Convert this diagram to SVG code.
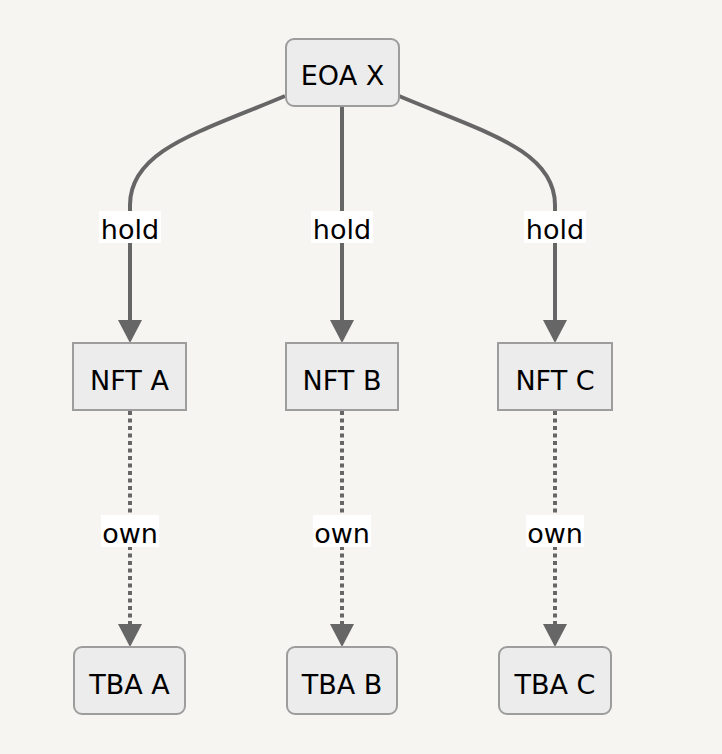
<svg xmlns="http://www.w3.org/2000/svg" width="722" height="754" viewBox="0 0 722 754">
<style>
.node rect{fill:#ececec;stroke:#9d9d9d;stroke-width:2}
text{font-family:"DejaVu Sans","Liberation Sans",sans-serif;font-size:27px;fill:#000;text-anchor:middle;dominant-baseline:central}
.edge{fill:none;stroke:#666;stroke-width:4}
.dot{stroke-dasharray:4 3.5}
.lbl{fill:#fff}
</style>
<rect width="722" height="754" fill="#f6f5f1"/>
<g id="connectors">
<path class="edge" d="M285,96 C200,132 130,150 130,205 L130,322"/>
<path d="M118,320 L142,320 L130,343 Z" fill="#666"/>
<path class="edge" d="M342,106 L342,322"/>
<path d="M330,320 L354,320 L342,343 Z" fill="#666"/>
<path class="edge" d="M399,96 C484,132 555,150 555,205 L555,322"/>
<path d="M543,320 L567,320 L555,343 Z" fill="#666"/>
<path class="edge dot" d="M130,411 L130,625"/>
<path d="M118,624 L142,624 L130,647 Z" fill="#666"/>
<path class="edge dot" d="M342,411 L342,625"/>
<path d="M330,624 L354,624 L342,647 Z" fill="#666"/>
<path class="edge dot" d="M555,411 L555,625"/>
<path d="M543,624 L567,624 L555,647 Z" fill="#666"/>
<g id="labels">
<rect class="lbl" x="99" y="211" width="62" height="32"/><text x="130" y="229">hold</text>
<rect class="lbl" x="311" y="211" width="62" height="32"/><text x="342" y="229">hold</text>
<rect class="lbl" x="524" y="211" width="62" height="32"/><text x="555" y="229">hold</text>
<rect class="lbl" x="101" y="515" width="58" height="32"/><text x="130" y="533">own</text>
<rect class="lbl" x="313" y="515" width="58" height="32"/><text x="342" y="533">own</text>
<rect class="lbl" x="526" y="515" width="58" height="32"/><text x="555" y="533">own</text>
</g>
</g>
<g id="eoa-x" class="node"><rect x="286" y="39" width="113" height="67" rx="8"/><text x="342.5" y="75">EOA X</text></g>
<g id="nft-a" class="node"><rect x="73" y="343" width="113" height="67"/><text x="129.5" y="380">NFT A</text></g>
<g id="nft-b" class="node"><rect x="286" y="343" width="112" height="67"/><text x="342" y="380">NFT B</text></g>
<g id="nft-c" class="node"><rect x="498" y="343" width="114" height="67"/><text x="555" y="380">NFT C</text></g>
<g id="tba-a" class="node"><rect x="74" y="647" width="111" height="67" rx="8"/><text x="129.5" y="684">TBA A</text></g>
<g id="tba-b" class="node"><rect x="287" y="647" width="110" height="67" rx="8"/><text x="342" y="684">TBA B</text></g>
<g id="tba-c" class="node"><rect x="499" y="647" width="112" height="67" rx="8"/><text x="555" y="684">TBA C</text></g>
</svg>
